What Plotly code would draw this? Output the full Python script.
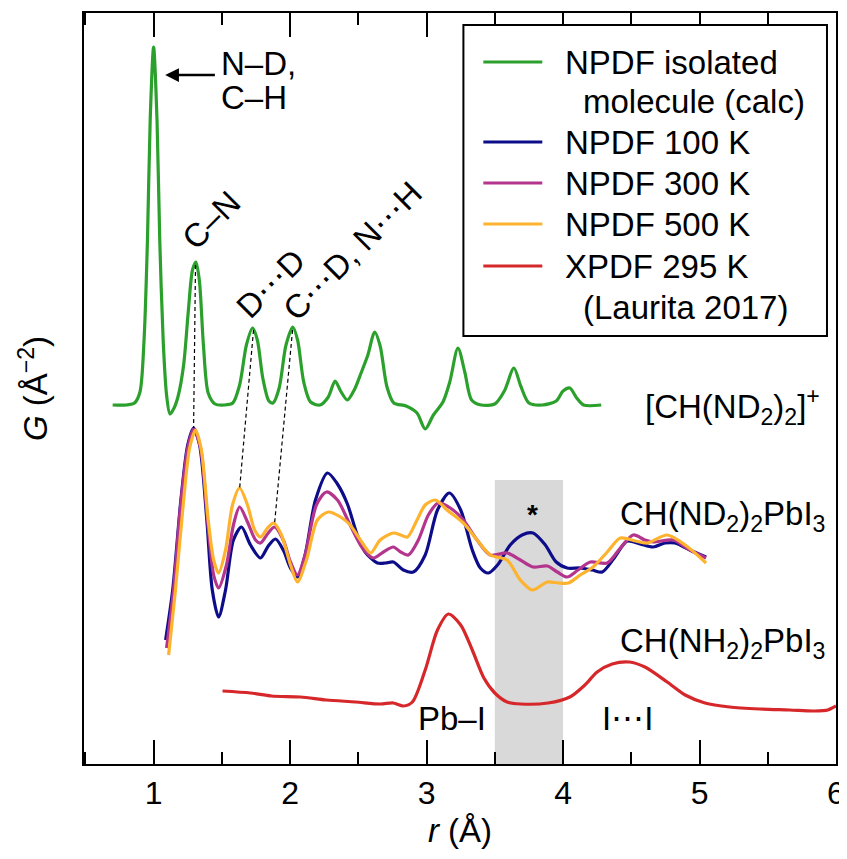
import plotly.graph_objects as go

FONT = "Liberation Sans, Arial, Helvetica, sans-serif"
FS = 33

# ---------------- data (r in Å, G in arbitrary offset units) ----------------
calc_r = [0.70, 0.80, 0.86, 0.90, 0.93, 0.955, 0.975, 1.00, 1.025, 1.045, 1.07, 1.095, 1.12, 1.15,
          1.18, 1.22, 1.255, 1.285, 1.31, 1.335, 1.365, 1.40, 1.45, 1.52, 1.58, 1.63, 1.68, 1.725,
          1.76, 1.80, 1.845, 1.875, 1.92, 1.97, 2.02, 2.055, 2.10, 2.15, 2.22, 2.28, 2.33, 2.37,
          2.42, 2.47, 2.52, 2.57, 2.62, 2.66, 2.71, 2.76, 2.85, 2.93, 2.99, 3.05, 3.12, 3.17, 3.23,
          3.28, 3.33, 3.40, 3.50, 3.57, 3.64, 3.69, 3.75, 3.85, 3.95, 4.00, 4.05, 4.10, 4.15, 4.28]
calc_G = [3.59, 3.59, 3.61, 3.72, 4.24, 5.24, 6.44, 7.17, 6.44, 5.24, 4.24, 3.69, 3.50, 3.56,
          3.68, 3.99, 4.54, 4.94, 5.02, 4.84, 4.19, 3.71, 3.60, 3.59, 3.61, 3.79, 4.19, 4.36,
          4.24, 3.86, 3.63, 3.61, 3.76, 4.19, 4.37, 4.24, 3.82, 3.62, 3.59, 3.67, 3.83, 3.73,
          3.64, 3.74, 3.91, 4.09, 4.32, 4.18, 3.77, 3.61, 3.58, 3.51, 3.35, 3.49, 3.62, 3.82, 4.16,
          3.92, 3.64, 3.59, 3.60, 3.73, 3.96, 3.78, 3.61, 3.59, 3.63, 3.73, 3.76, 3.66, 3.59, 3.59]

n100_r = [1.088, 1.14, 1.20, 1.25, 1.293, 1.337, 1.39, 1.43, 1.476, 1.527, 1.585, 1.644, 1.71, 1.783,
          1.84, 1.893, 1.95, 2.003, 2.054, 2.11, 2.186, 2.274, 2.347, 2.42, 2.49, 2.55, 2.64, 2.70,
          2.757, 2.83, 2.903, 2.99, 3.08, 3.167, 3.25, 3.335, 3.394, 3.453, 3.52, 3.613, 3.70, 3.78,
          3.87, 3.95, 4.03, 4.126, 4.214, 4.287, 4.375, 4.47, 4.565, 4.66, 4.748, 4.82, 4.93, 5.048]
n100_G = [1.24, 1.74, 2.64, 3.19, 3.36, 3.19, 2.44, 1.74, 1.47, 1.74, 2.24, 2.37, 2.19, 2.06,
          2.18, 2.25, 2.14, 1.96, 1.87, 2.09, 2.64, 2.91, 2.80, 2.60, 2.30, 2.12, 2.01, 2.01,
          2.02, 1.94, 1.92, 2.09, 2.54, 2.71, 2.54, 2.14, 1.96, 1.91, 1.99, 2.19, 2.29, 2.31,
          2.19, 2.02, 1.96, 1.96, 1.94, 1.92, 2.06, 2.23, 2.20, 2.17, 2.21, 2.21, 2.14, 2.07]

n300_r = [1.095, 1.146, 1.198, 1.25, 1.293, 1.344, 1.395, 1.44, 1.476, 1.534, 1.585, 1.63, 1.688, 1.747,
          1.783, 1.84, 1.886, 1.95, 2.003, 2.054, 2.11, 2.193, 2.266, 2.347, 2.44, 2.53, 2.61, 2.684,
          2.757, 2.81, 2.867, 2.94, 3.013, 3.086, 3.174, 3.27, 3.37, 3.467, 3.59, 3.687, 3.78, 3.885,
          3.958, 4.03, 4.11, 4.20, 4.324, 4.42, 4.514, 4.60, 4.66, 4.807, 4.93, 5.048]
n300_G = [1.16, 1.74, 2.59, 3.16, 3.35, 3.16, 2.44, 1.89, 1.76, 1.99, 2.39, 2.57, 2.42, 2.24,
          2.21, 2.31, 2.37, 2.24, 2.02, 1.89, 2.09, 2.59, 2.72, 2.64, 2.39, 2.16, 2.06, 2.12,
          2.17, 2.12, 2.09, 2.24, 2.49, 2.61, 2.56, 2.44, 2.24, 2.09, 2.11, 2.04, 1.97, 1.98,
          1.92, 1.87, 1.94, 2.02, 2.01, 2.16, 2.29, 2.24, 2.22, 2.24, 2.14, 2.06]

n500_r = [1.11, 1.16, 1.22, 1.264, 1.307, 1.35, 1.40, 1.44, 1.476, 1.527, 1.578, 1.63, 1.688, 1.74,
          1.783, 1.835, 1.88, 1.937, 2.003, 2.054, 2.12, 2.20, 2.28, 2.37, 2.44, 2.53, 2.59, 2.66,
          2.757, 2.81, 2.86, 2.93, 2.99, 3.064, 3.15, 3.27, 3.37, 3.467, 3.59, 3.687, 3.775, 3.885,
          3.965, 4.04, 4.126, 4.22, 4.324, 4.42, 4.53, 4.616, 4.763, 4.895, 5.048]
n500_G = [1.09, 1.74, 2.64, 3.16, 3.34, 3.14, 2.44, 2.04, 1.91, 2.14, 2.59, 2.76, 2.59, 2.34,
          2.27, 2.36, 2.41, 2.29, 1.99, 1.82, 2.04, 2.44, 2.52, 2.47, 2.39, 2.21, 2.11, 2.24,
          2.31, 2.29, 2.27, 2.44, 2.59, 2.64, 2.54, 2.41, 2.24, 2.09, 2.04, 1.84, 1.74, 1.82,
          1.81, 1.81, 1.89, 1.97, 2.12, 2.26, 2.23, 2.21, 2.29, 2.19, 2.01]

x295_r = [1.505, 1.71, 1.864, 2.076, 2.266, 2.48, 2.66, 2.757, 2.83, 2.896, 2.99, 3.08, 3.16, 3.25,
          3.335, 3.42, 3.50, 3.59, 3.69, 3.89, 4.05, 4.16, 4.25, 4.36, 4.485, 4.60, 4.763, 4.895,
          5.04, 5.22, 5.44, 5.66, 5.84, 5.94, 6.00]
x295_G = [0.73, 0.71, 0.68, 0.67, 0.64, 0.62, 0.60, 0.61, 0.58, 0.62, 0.94, 1.34, 1.50, 1.39,
          1.14, 0.86, 0.71, 0.62, 0.60, 0.61, 0.67, 0.79, 0.92, 1.00, 1.02, 0.97, 0.82, 0.69,
          0.61, 0.57, 0.55, 0.54, 0.53, 0.54, 0.58]

# peak-correspondence guide lines (r_top, G_top, r_bottom, G_bottom)
guide_r0 = [1.307, 1.732, 2.018]
guide_G0 = [4.99, 4.34, 4.34]
guide_r1 = [1.293, 1.63, 1.886]
guide_G1 = [3.36, 2.75, 2.40]

# highlighted r range
band_r = [3.5, 4.0]
band_G_top = 2.84

series_names = ["NPDF isolated<br> molecule (calc)", "NPDF 100 K", "NPDF 300 K",
                "NPDF 500 K", "XPDF 295 K<br> (Laurita 2017)"]
series_colors = ["#2ca02c", "#0d0d8a", "#b4358e", "#fdb32e", "#d6282a"]

# ---------------- figure ----------------
fig = go.Figure()

for (rr, gg), name, col in zip(
        [(calc_r, calc_G), (n100_r, n100_G), (n300_r, n300_G), (n500_r, n500_G), (x295_r, x295_G)],
        series_names, series_colors):
    fig.add_trace(go.Scatter(x=rr, y=gg, mode="lines", name=name.replace("<br>", ""),
                             line=dict(color=col, width=3.2, shape="spline", smoothing=0.8),
                             showlegend=False))

for a, b, c, d in zip(guide_r0, guide_G0, guide_r1, guide_G1):
    fig.add_trace(go.Scatter(x=[a, c], y=[b, d], mode="lines",
                             line=dict(color="black", width=1.2, dash="4px,3px"),
                             showlegend=False, hoverinfo="skip"))

fig.add_shape(type="rect", x0=band_r[0], x1=band_r[1], y0=0, y1=band_G_top,
              fillcolor="#d9d9d9", line=dict(width=0), layer="below")

# ---- legend box (drawn) ----
leg_left, leg_right, leg_top, leg_bottom = 3.27, 5.934, 7.39, 4.28
fig.add_shape(type="rect", x0=leg_left, x1=leg_right, y0=leg_bottom, y1=leg_top,
              line=dict(color="black", width=2), fillcolor="white", layer="above")
row_y = [7.02, 6.22, 5.81, 5.40, 4.98]
sub_y = {0: 6.63, 4: 4.57}
for i, (name, col, yy) in enumerate(zip(series_names, series_colors, row_y)):
    fig.add_shape(type="line", x0=3.416, x1=3.848, y0=yy, y1=yy,
                  line=dict(color=col, width=3.2), layer="above")
    parts = name.split("<br>")
    fig.add_annotation(x=4.0, y=yy, text=parts[0], showarrow=False, xanchor="left",
                       yanchor="middle", font=dict(size=FS, family=FONT, color="black"))
    if len(parts) > 1:
        fig.add_annotation(x=4.13, y=sub_y[i], text=parts[1].strip(),
                           showarrow=False, xanchor="left", yanchor="middle",
                           font=dict(size=FS, family=FONT, color="black"))

def txt(x, y, s, size=FS, angle=0, xanchor="center"):
    fig.add_annotation(x=x, y=y, text=s, showarrow=False, textangle=angle, xanchor=xanchor,
                       yanchor="middle", font=dict(size=size, family=FONT, color="black"))

txt(1.476, 7.01, "N–D,", xanchor="left")
txt(1.476, 6.67, "C–H", xanchor="left")
fig.add_annotation(x=1.085, y=6.89, ax=1.46, ay=6.89, axref="x", ayref="y", text="",
                   showarrow=True, arrowhead=2, arrowsize=1.1, arrowwidth=2.5, arrowcolor="black")
txt(1.417, 5.44, "C–N", angle=-45)
txt(1.857, 4.81, "D⋯D", angle=-45)
txt(2.457, 5.14, "C⋯D, N⋯H", angle=-45)
txt(5.897, 3.58, "[CH(ND<sub>2</sub>)<sub>2</sub>]<sup>+</sup>", xanchor="right")
txt(5.934, 2.48, "CH(ND<sub>2</sub>)<sub>2</sub>PbI<sub>3</sub>", xanchor="right")
txt(5.934, 1.21, "CH(NH<sub>2</sub>)<sub>2</sub>PbI<sub>3</sub>", xanchor="right")
txt(3.775, 2.50, "<b>*</b>", size=28)
txt(3.19, 0.46, "Pb–I")
txt(4.47, 0.46, "I⋯I")

# the page adds an 8 px body margin, so the figure is sized to fit the window
fig.update_layout(
    width=839, height=851,
    margin=dict(l=76, r=11, t=5, b=95),
    paper_bgcolor="white", plot_bgcolor="white",
    font=dict(family=FONT, size=FS, color="black"),
    showlegend=False,
)
fig.update_xaxes(
    range=[0.49, 6.0], tick0=0, dtick=1, ticks="inside", ticklen=24, tickwidth=1.5,
    tickcolor="black", showline=True, linewidth=2, linecolor="black", mirror="ticks",
    showgrid=False, zeroline=False, tickfont=dict(size=32, family=FONT), automargin=False,
    minor=dict(ticks="inside", ticklen=12, dtick=0.5, tickwidth=1.5, tickcolor="black", showgrid=False),
    title=dict(text="<i>r</i> (Å)", font=dict(size=FS, family=FONT), standoff=8),
)
fig.update_yaxes(
    range=[0, 7.51], showticklabels=False, ticks="", showline=True, linewidth=2,
    linecolor="black", mirror=True, showgrid=False, zeroline=False, automargin=False,
    title=dict(text="<i>G</i> (Å<sup>−2</sup>)", font=dict(size=FS, family=FONT), standoff=24),
)

fig.write_html("out.html")
